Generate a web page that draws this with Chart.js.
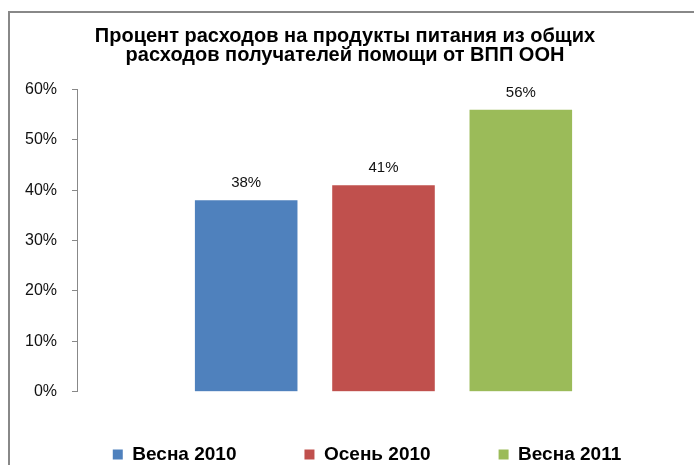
<!DOCTYPE html>
<html>
<head>
<meta charset="utf-8">
<script src="https://cdn.jsdelivr.net/npm/chart.js@4"></script>
<style>
  html, body { margin: 0; padding: 0; background: #fff; overflow: hidden; }
  #wrap { width: 694px; height: 465px; }
</style>
</head>
<body>
<div id="wrap"><canvas id="foodChart" width="694" height="465"></canvas></div>
<script>
/* DATA */
var titleLines = ["Процент расходов на продукты питания из общих", "расходов получателей помощи от ВПП ООН"];
var seriesNames = ["Весна 2010", "Осень 2010", "Весна 2011"];
var seriesValues = [38, 41, 56];
var seriesColors = ["#4F81BD", "#C0504D", "#9BBB59"];
var yTicks = [0, 10, 20, 30, 40, 50, 60];

// one category, one dataset per period (so the legend lists the periods)
var datasets = seriesNames.map(function (name, i) {
  return {
    label: name,
    data: [seriesValues[i]],
    backgroundColor: seriesColors[i],
    borderWidth: 0,
    barPercentage: 0.747,
    categoryPercentage: 0.672,
  };
});

/* PLUGINS */
// grey frame round the chart (its right and bottom sides fall outside the picture)
const frame = {
  id: "frame",
  beforeDraw(chart) {
    const ctx = chart.ctx;
    ctx.save();
    ctx.fillStyle = "#fff";
    ctx.fillRect(0, 0, chart.width, chart.height);
    ctx.strokeStyle = "#888";
    ctx.lineWidth = 2;
    ctx.strokeRect(9, 12, chart.width + 20, chart.height + 20);
    ctx.restore();
  },
};

// move the legend row to where the original has it
const legendSpot = {
  id: "legendSpot",
  afterLayout(chart) {
    const lg = chart.legend;
    lg.top -= 14.7;
    lg.bottom -= 14.7;
    lg.left += 22;
    lg.right += 22;
  },
};

// value labels above bars
const valueLabels = {
  id: "valueLabels",
  afterDatasetsDraw(chart) {
    const ctx = chart.ctx;
    ctx.save();
    ctx.font = "15px 'Liberation Sans', Arial, sans-serif";
    ctx.fillStyle = "#111";
    ctx.textAlign = "center";
    ctx.textBaseline = "middle";
    chart.data.datasets.forEach(function (ds, i) {
      const bar = chart.getDatasetMeta(i).data[0];
      ctx.fillText(ds.data[0] + "%", bar.x, bar.y - 17);
    });
    ctx.restore();
  },
};

/* CHART.JS */
new Chart("foodChart", {
  type: "bar",
  data: {
    labels: [""],
    datasets: datasets,
  },
  options: {
    responsive: false,
    animation: false,
    layout: {
      padding: { left: 0, right: 4, top: 0, bottom: -23.7 },
    },
    plugins: {
      title: {
        display: true,
        text: titleLines,
        color: "#000",
        font: { family: "'Liberation Sans', Arial, sans-serif", size: 20, weight: "bold", lineHeight: 0.95 },
        padding: { top: 26.6, bottom: 24.9 },
      },
      legend: {
        position: "bottom",
        labels: {
          boxWidth: 10,
          boxHeight: 10,
          padding: 68,
          color: "#000",
          font: { family: "'Liberation Sans', Arial, sans-serif", size: 19, weight: "bold" },
        },
      },
      tooltip: { enabled: false },
    },
    scales: {
      x: { display: false },
      y: {
        min: 0,
        max: 60,
        afterFit: function (scale) {
          scale.width = 77;
        },
        afterBuildTicks: function (scale) {
          scale.ticks = yTicks.map(function (v) { return { value: v }; });
        },
        border: { color: "#888", width: 1 },
        grid: { drawOnChartArea: false, tickLength: 5, color: "#888" },
        ticks: {
          padding: 15,
          color: "#111",
          font: { family: "'Liberation Sans', Arial, sans-serif", size: 16 },
          callback: function (value) {
            return value + "%";
          },
        },
      },
    },
  },
  plugins: [frame, legendSpot, valueLabels],
});
</script>
</body>
</html>
